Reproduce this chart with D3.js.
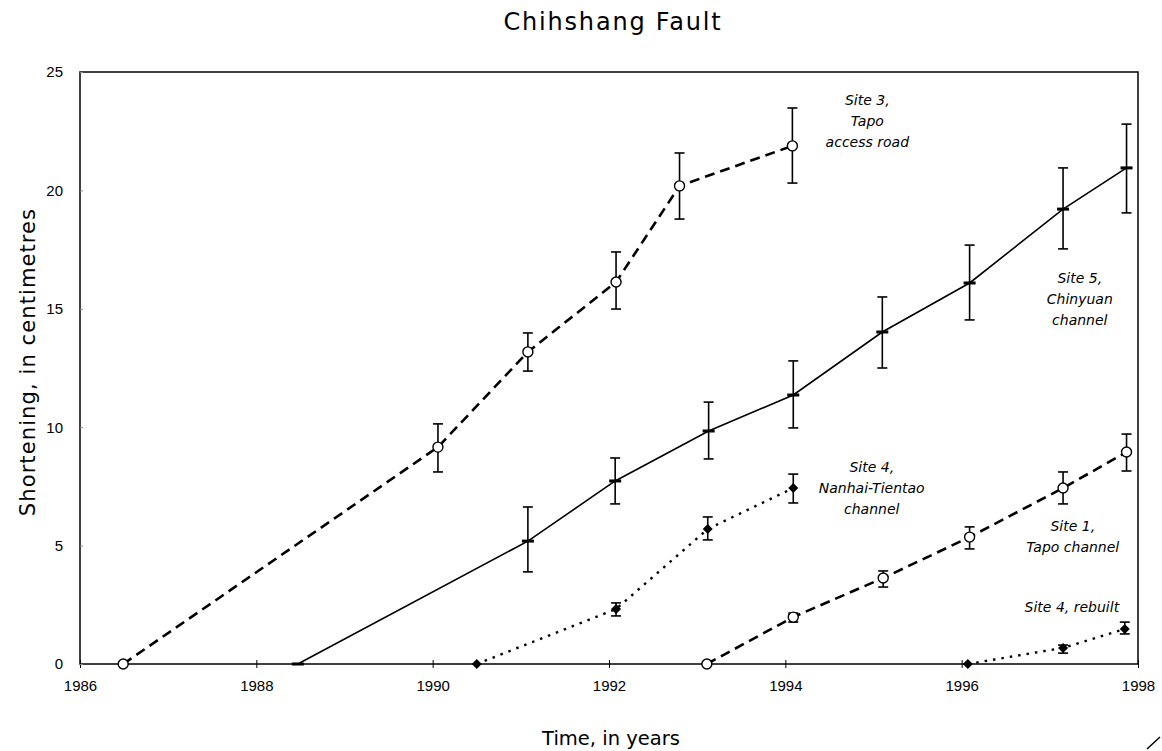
<!DOCTYPE html>
<html>
<head>
<meta charset="utf-8">
<script src="https://cdn.jsdelivr.net/npm/d3@7"></script>
<style>
  body { margin: 0; background: #fff; }
  svg { display: block; }
</style>
</head>
<body>
<svg width="1162" height="751"></svg>
<script>
// Each row: [year, shortening (cm), error low, error high]
var SITE3_DATA = [
  [1986.49, 0, null, null],
  [1990.06, 9.16, 8.11, 10.14],
  [1991.08, 13.18, 12.37, 13.98],
  [1992.08, 16.13, 14.99, 17.4],
  [1992.8, 20.19, 18.79, 21.58],
  [1994.08, 21.88, 20.31, 23.48]
];
var SITE5_DATA = [
  [1988.47, 0, null, null],
  [1991.08, 5.19, 3.89, 6.63],
  [1992.07, 7.73, 6.76, 8.7],
  [1993.13, 9.84, 8.66, 11.06],
  [1994.09, 11.36, 9.97, 12.8],
  [1995.1, 14.02, 12.5, 15.5],
  [1996.09, 16.09, 14.53, 17.69],
  [1997.15, 19.21, 17.53, 20.95],
  [1997.87, 20.95, 19.05, 22.8]
];
var SITE4_DATA = [
  [1990.5, 0, null, null],
  [1992.08, 2.32, 2.03, 2.58],
  [1993.12, 5.7, 5.24, 6.21],
  [1994.09, 7.43, 6.8, 8.02]
];
var SITE1_DATA = [
  [1993.11, 0, null, null],
  [1994.09, 1.98, 1.77, 2.15],
  [1995.11, 3.63, 3.25, 3.93],
  [1996.09, 5.36, 4.86, 5.79],
  [1997.15, 7.43, 6.76, 8.11],
  [1997.87, 8.95, 8.15, 9.71]
];
var SITE4_REBUILT_DATA = [
  [1996.07, 0, null, null],
  [1997.15, 0.68, 0.46, 0.8],
  [1997.85, 1.48, 1.27, 1.77]
];

var X_TICKS = [1986, 1988, 1990, 1992, 1994, 1996, 1998];
var Y_TICKS = [0, 5, 10, 15, 20, 25];

// annotation: [year, value, lines]
var LABELS = [
  [1994.93, 23.6, ["Site 3,", "Tapo", "access road"]],
  [1997.34, 16.08, ["Site 5,", "Chinyuan", "channel"]],
  [1994.98, 8.1, ["Site 4,", "Nanhai-Tientao", "channel"]],
  [1997.26, 5.6, ["Site 1,", "Tapo channel"]],
  [1997.25, 2.2, ["Site 4, rebuilt"]]
];

var svg = d3.select("svg"),
  margin = { top: 72, right: 24, bottom: 87, left: 80 },
  width = svg.attr("width") - margin.left - margin.right,
  height = svg.attr("height") - margin.top - margin.bottom;

var xScale = d3.scaleLinear().domain([1986, 1998]).range([0, width]),
  yScale = d3.scaleLinear().domain([0, 25]).range([height, 0]);

var g = svg.append("g")
  .attr("transform", "translate(" + margin.left + "," + margin.top + ")");

var gothic = "'Century Gothic', 'URW Gothic', 'DejaVu Sans', sans-serif";

// Title
svg.append("text")
  .attr("x", margin.left + width / 2 + 4)
  .attr("y", 30)
  .attr("text-anchor", "middle")
  .style("font-family", gothic)
  .style("font-size", "24px")
  .style("letter-spacing", "1.8px")
  .text("Chihshang Fault");

// X label
svg.append("text")
  .attr("x", margin.left + width / 2 + 2)
  .attr("y", 745)
  .attr("text-anchor", "middle")
  .style("font-family", gothic)
  .style("font-size", "19.5px")
  .text("Time, in years");

// Y label
svg.append("text")
  .attr("text-anchor", "middle")
  .attr("transform", "translate(35," + (margin.top + height / 2 - 6) + ")rotate(-90)")
  .style("font-family", gothic)
  .style("font-size", "21px")
  .style("letter-spacing", "1.1px")
  .text("Shortening, in centimetres");

// Frame
g.append("rect")
  .attr("width", width)
  .attr("height", height)
  .attr("fill", "none")
  .attr("stroke", "#000")
  .attr("stroke-width", 1.5);

// Axes
var xAxis = d3.axisBottom(xScale).tickValues(X_TICKS).tickFormat(d3.format("d")).tickSize(4).tickPadding(12);
var yAxis = d3.axisLeft(yScale).tickValues(Y_TICKS).tickSize(3).tickPadding(14);

g.append("g")
  .attr("transform", "translate(0," + height + ")")
  .call(xAxis)
  .call(function (a) {
    a.select(".domain").remove();
    a.selectAll("line").attr("y1", -4);
    a.selectAll("text").style("font-family", "'Liberation Sans', Arial, sans-serif").style("font-size", "15px");
  });

g.append("g")
  .call(yAxis)
  .call(function (a) {
    a.select(".domain").remove();
    a.selectAll("line").attr("x2", 3).attr("stroke", "#888");
    a.selectAll("text").style("font-family", "'Liberation Sans', Arial, sans-serif").style("font-size", "15px");
  });

var line = d3.line()
  .x(function (d) { return xScale(d[0]); })
  .y(function (d) { return yScale(d[1]); });

function drawSeries(data, dash, strokeWidth, marker) {
  g.append("path")
    .datum(data)
    .attr("d", line)
    .attr("fill", "none")
    .attr("stroke", "#000")
    .attr("stroke-width", strokeWidth)
    .attr("stroke-dasharray", dash);

  var bars = data.filter(function (d) { return d[2] !== null; });
  var eb = g.append("g").attr("stroke", "#000").attr("stroke-width", 1.6);
  bars.forEach(function (d) {
    var x = xScale(d[0]);
    eb.append("line").attr("x1", x).attr("x2", x).attr("y1", yScale(d[2])).attr("y2", yScale(d[3]));
    eb.append("line").attr("x1", x - 5).attr("x2", x + 5).attr("y1", yScale(d[2])).attr("y2", yScale(d[2]));
    eb.append("line").attr("x1", x - 5).attr("x2", x + 5).attr("y1", yScale(d[3])).attr("y2", yScale(d[3]));
  });

  var m = g.append("g");
  data.forEach(function (d) {
    var x = xScale(d[0]), y = yScale(d[1]);
    if (marker === "circle") {
      m.append("circle").attr("cx", x).attr("cy", y).attr("r", 5)
        .attr("fill", "#fff").attr("stroke", "#000").attr("stroke-width", 1.4);
    } else if (marker === "diamond") {
      m.append("path")
        .attr("d", d3.symbol().type(d3.symbolSquare).size(50)())
        .attr("transform", "translate(" + x + "," + y + ")rotate(45)")
        .attr("fill", "#000");
    } else {
      m.append("rect").attr("x", x - 6).attr("y", y - 1.5).attr("width", 12).attr("height", 3).attr("fill", "#000");
    }
  });
}

drawSeries(SITE5_DATA, null, 1.6, "dash");
drawSeries(SITE3_DATA, "10,6", 2.6, "circle");
drawSeries(SITE1_DATA, "10,6", 2.6, "circle");
drawSeries(SITE4_DATA, "2.5,6", 2.4, "diamond");
drawSeries(SITE4_REBUILT_DATA, "2.5,6", 2.4, "diamond");

// Annotations
LABELS.forEach(function (l) {
  var t = g.append("text")
    .attr("text-anchor", "middle")
    .style("font-family", gothic)
    .style("font-style", "italic")
    .style("font-size", "14px");
  l[2].forEach(function (s, i) {
    t.append("tspan")
      .attr("x", xScale(l[0]))
      .attr("y", yScale(l[1]) + i * 21)
      .text(s);
  });
});

// scan mark in the corner
svg.append("line")
  .attr("x1", 1147).attr("y1", 749).attr("x2", 1160).attr("y2", 737)
  .attr("stroke", "#000").attr("stroke-width", 1.5);
</script>
</body>
</html>
